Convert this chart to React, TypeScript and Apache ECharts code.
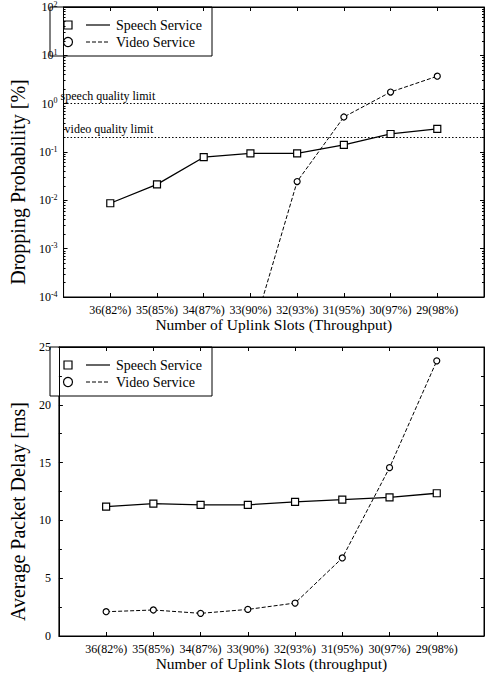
import React, { useEffect, useRef } from "react";
import * as echarts from "echarts";

const slotLabels = ["36(82%)", "35(85%)", "34(87%)", "33(90%)", "32(93%)", "31(95%)", "30(97%)", "29(98%)"];
const slotPositions = [1, 2, 3, 4, 5, 6, 7, 8];
const dropSpeech = [0.0087, 0.0214, 0.078, 0.094, 0.094, 0.14, 0.236, 0.3];
const dropVideo = [null, null, null, 0.000013, 0.0245, 0.53, 1.74, 3.7];
const delaySpeech = [11.2, 11.45, 11.35, 11.35, 11.6, 11.8, 12.0, 12.35];
const delayVideo = [2.1, 2.25, 1.96, 2.3, 2.85, 6.75, 14.56, 23.8];
const speechQualityLimit = 1;
const videoQualityLimit = 0.2;
const legendNames = ["Speech Service", "Video Service"];

const F = '"Liberation Serif", "Times New Roman", serif';
const BLACK = "#000";

function pairs(vals: (number | null)[]) {
  const out: [number, number][] = [];
  vals.forEach((v, i) => {
    if (v !== null) out.push([slotPositions[i], v]);
  });
  return out;
}

function xAxes(gridIndex: number, name: string) {
  const common = {
    gridIndex,
    type: "value" as const,
    min: 0,
    max: 9,
    interval: 1,
    splitLine: { show: false },
    axisLine: { show: true, onZero: false, lineStyle: { color: BLACK, width: 1 } },
    axisTick: { show: true, inside: true, length: 4, lineStyle: { color: BLACK } },
  };
  return [
    {
      ...common,
      position: "bottom",
      axisLabel: {
        show: true,
        margin: 7,
        color: BLACK,
        fontFamily: F,
        fontSize: 12,
        formatter: (v: number) => slotLabels[slotPositions.indexOf(v)] ?? "",
      },
      name,
      nameLocation: "middle",
      nameGap: 19,
      nameTextStyle: { color: BLACK, fontFamily: F, fontSize: 15.5 },
    },
    { ...common, position: "top", axisLabel: { show: false } },
  ];
}

function legendGraphic(top: number) {
  const lineY1 = top + 18;
  const lineY2 = top + 35;
  return {
    type: "group",
    z: 100,
    children: [
      { type: "rect", shape: { x: 50, y: top, width: 162, height: 49 }, style: { fill: "#fff", stroke: BLACK, lineWidth: 1 } },
      { type: "rect", shape: { x: 64, y: lineY1 - 4, width: 8, height: 8 }, style: { fill: "#fff", stroke: BLACK, lineWidth: 1.2 } },
      { type: "line", shape: { x1: 86, y1: lineY1, x2: 110, y2: lineY1 }, style: { stroke: BLACK, lineWidth: 1.2 } },
      { type: "text", style: { text: legendNames[0], x: 116, y: lineY1, verticalAlign: "middle", fill: BLACK, font: `14px ${F}` } },
      { type: "circle", shape: { cx: 68, cy: lineY2, r: 4.5 }, style: { fill: "#fff", stroke: BLACK, lineWidth: 1.2 } },
      { type: "line", shape: { x1: 86, y1: lineY2, x2: 110, y2: lineY2 }, style: { stroke: BLACK, lineWidth: 1, lineDash: [4, 2] } },
      { type: "text", style: { text: legendNames[1], x: 116, y: lineY2, verticalAlign: "middle", fill: BLACK, font: `14px ${F}` } },
    ],
  };
}

export default function App() {
  const ref = useRef<HTMLDivElement>(null);
  useEffect(() => {
    if (!ref.current) return;
    const chart = echarts.init(ref.current, undefined, { renderer: "svg" });
    const yCommon = {
      splitLine: { show: false },
      axisLine: { show: true, onZero: false, lineStyle: { color: BLACK, width: 1 } },
      axisTick: { show: true, inside: true, length: 4, lineStyle: { color: BLACK } },
    };
    const logAxis = {
      ...yCommon,
      type: "log" as const,
      logBase: 10,
      min: 0.0001,
      max: 100,
      splitNumber: 6,
      minorTick: { show: true, splitNumber: 9, length: 2, lineStyle: { color: BLACK } },
    };
    const linAxis = {
      ...yCommon,
      type: "value" as const,
      min: 0,
      max: 25,
      interval: 5,
      minorTick: { show: true, splitNumber: 2, length: 3, lineStyle: { color: BLACK } },
    };
    const speechLine = { color: BLACK, width: 1.3, type: "solid" };
    const videoLine = { color: BLACK, width: 1, type: [4, 2] };
    const markerStyle = { color: "#fff", borderColor: BLACK, borderWidth: 1.2 };
    const gridBorder = { show: true, borderColor: BLACK, borderWidth: 1, backgroundColor: "transparent" };

    const option: any = {
      animation: false,
      backgroundColor: "#fff",
      grid: [
        { ...gridBorder, left: 50, top: 7, width: 434, height: 290 },
        { ...gridBorder, left: 50, top: 347, width: 434, height: 289 },
      ],
      xAxis: [...xAxes(0, "Number of Uplink Slots (Throughput)"), ...xAxes(1, "Number of Uplink Slots (throughput)")],
      yAxis: [
        {
          ...logAxis,
          gridIndex: 0,
          position: "left",
          axisLabel: {
            margin: 6,
            formatter: (v: number) => `{b|10}{s|${Math.round(Math.log10(v))}}`,
            rich: {
              b: { fontSize: 12, fontFamily: F, color: BLACK },
              s: { fontSize: 8, fontFamily: F, color: BLACK, verticalAlign: "bottom", padding: [0, 0, 6, 0] },
            },
          },
          name: "Dropping Probability [%]",
          nameLocation: "middle",
          nameGap: 28,
          nameTextStyle: { color: BLACK, fontFamily: F, fontSize: 20, padding: [0, 60, 0, 0] },
        },
        { ...logAxis, gridIndex: 0, position: "right", axisLabel: { show: false } },
        {
          ...linAxis,
          gridIndex: 1,
          position: "left",
          axisLabel: { margin: 8, color: BLACK, fontFamily: F, fontSize: 12 },
          name: "Average Packet Delay [ms]",
          nameLocation: "middle",
          nameGap: 19,
          nameTextStyle: { color: BLACK, fontFamily: F, fontSize: 20, padding: [0, 40, 0, 0] },
        },
        { ...linAxis, gridIndex: 1, position: "right", axisLabel: { show: false } },
      ],
      series: [
        {
          name: legendNames[0],
          type: "line",
          xAxisIndex: 0,
          yAxisIndex: 0,
          data: pairs(dropSpeech),
          symbol: "rect",
          symbolSize: 7,
          itemStyle: markerStyle,
          lineStyle: speechLine,
          z: 3,
          markLine: {
            silent: true,
            symbol: ["none", "none"],
            lineStyle: { color: BLACK, type: [1.5, 2], width: 1.2 },
            label: {
              show: true,
              position: "insideStartTop",
              formatter: "{b}",
              color: BLACK,
              fontFamily: F,
              fontSize: 12,
            },
            data: [
              { name: "speech quality limit", yAxis: speechQualityLimit, label: { distance: [-3, 2] } },
              { name: "video quality limit", yAxis: videoQualityLimit, label: { distance: [1, 2] } },
            ],
          },
        },
        {
          name: legendNames[1],
          type: "line",
          xAxisIndex: 0,
          yAxisIndex: 0,
          data: pairs(dropVideo),
          symbol: "circle",
          symbolSize: 6,
          itemStyle: markerStyle,
          lineStyle: videoLine,
          clip: true,
        },
        {
          name: legendNames[0],
          type: "line",
          xAxisIndex: 2,
          yAxisIndex: 2,
          data: pairs(delaySpeech),
          symbol: "rect",
          symbolSize: 7,
          itemStyle: markerStyle,
          lineStyle: speechLine,
          z: 3,
        },
        {
          name: legendNames[1],
          type: "line",
          xAxisIndex: 2,
          yAxisIndex: 2,
          data: pairs(delayVideo),
          symbol: "circle",
          symbolSize: 6,
          itemStyle: markerStyle,
          lineStyle: videoLine,
        },
      ],
      graphic: [legendGraphic(7), legendGraphic(347)],
    };
    chart.setOption(option);
    return () => chart.dispose();
  }, []);
  return (
    <div
      ref={ref}
      style={{ position: "absolute", left: 0, top: 0, width: 490, height: 682, background: "#fff" }}
    />
  );
}
